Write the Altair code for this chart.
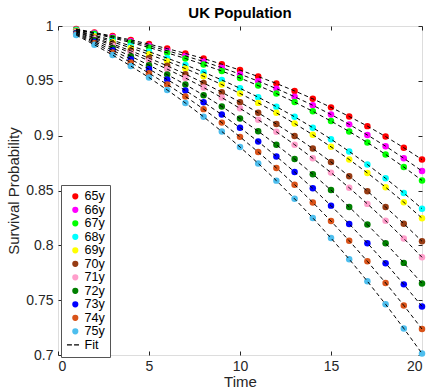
import altair as alt
import pandas as pd

ages = ["65y", "66y", "67y", "68y", "69y", "70y", "71y", "72y", "73y", "74y", "75y"]
colors = ["#FF0000", "#FF00FF", "#00FF00", "#00FFFF", "#FFFF00", "#963C14",
          "#FF9ECB", "#007F00", "#0000FF", "#D95319", "#4DBEEE"]
times = list(range(1, 21))

s65 = [0.9972, 0.9941, 0.9908, 0.9873, 0.9835, 0.9794, 0.9750, 0.9703, 0.9652, 0.9598,
       0.9539, 0.9476, 0.9408, 0.9336, 0.9258, 0.9175, 0.9087, 0.8992, 0.8890, 0.8782]
s66 = [0.9969, 0.9936, 0.9900, 0.9861, 0.9820, 0.9775, 0.9727, 0.9676, 0.9620, 0.9561,
       0.9497, 0.9429, 0.9355, 0.9277, 0.9193, 0.9103, 0.9006, 0.8904, 0.8794, 0.8677]
s67 = [0.9966, 0.9930, 0.9891, 0.9849, 0.9804, 0.9755, 0.9704, 0.9648, 0.9589, 0.9526,
       0.9457, 0.9384, 0.9306, 0.9222, 0.9133, 0.9038, 0.8937, 0.8829, 0.8714, 0.8592]
s68 = [0.9959, 0.9916, 0.9869, 0.9819, 0.9765, 0.9707, 0.9645, 0.9579, 0.9508, 0.9432,
       0.9351, 0.9264, 0.9172, 0.9073, 0.8968, 0.8856, 0.8737, 0.8611, 0.8477, 0.8334]
s69 = [0.9955, 0.9907, 0.9855, 0.9800, 0.9742, 0.9679, 0.9612, 0.9541, 0.9466, 0.9385,
       0.9299, 0.9208, 0.9111, 0.9008, 0.8898, 0.8783, 0.8660, 0.8530, 0.8393, 0.8248]
s70 = [0.9949, 0.9894, 0.9836, 0.9774, 0.9707, 0.9637, 0.9561, 0.9481, 0.9396, 0.9305,
       0.9209, 0.9106, 0.8997, 0.8882, 0.8760, 0.8630, 0.8494, 0.8349, 0.8197, 0.8037]
s71 = [0.9945, 0.9885, 0.9822, 0.9755, 0.9683, 0.9607, 0.9526, 0.9439, 0.9347, 0.9249,
       0.9145, 0.9035, 0.8918, 0.8794, 0.8663, 0.8525, 0.8378, 0.8224, 0.8062, 0.7891]
s72 = [0.9937, 0.9871, 0.9800, 0.9724, 0.9643, 0.9557, 0.9466, 0.9369, 0.9266, 0.9156,
       0.9040, 0.8917, 0.8787, 0.8649, 0.8504, 0.8350, 0.8189, 0.8019, 0.7840, 0.7653]
s73 = [0.9931, 0.9857, 0.9779, 0.9696, 0.9607, 0.9512, 0.9412, 0.9305, 0.9192, 0.9073,
       0.8946, 0.8811, 0.8669, 0.8520, 0.8362, 0.8195, 0.8020, 0.7837, 0.7644, 0.7443]
s74 = [0.9924, 0.9844, 0.9758, 0.9667, 0.9570, 0.9467, 0.9358, 0.9242, 0.9119, 0.8989,
       0.8851, 0.8706, 0.8553, 0.8391, 0.8221, 0.8042, 0.7854, 0.7657, 0.7452, 0.7237]
s75 = [0.9917, 0.9829, 0.9735, 0.9635, 0.9530, 0.9417, 0.9298, 0.9172, 0.9038, 0.8897,
       0.8747, 0.8590, 0.8424, 0.8250, 0.8066, 0.7874, 0.7672, 0.7462, 0.7242, 0.7014]

series = [s65, s66, s67, s68, s69, s70, s71, s72, s73, s74, s75]
x_ticks = [0, 5, 10, 15, 20]
y_ticks = [0.7, 0.75, 0.8, 0.85, 0.9, 0.95, 1.0]

rows = []
for a, vals in zip(ages, series):
    for t, v in zip(times, vals):
        rows.append({"age": a, "t": t, "s": v})
df = pd.DataFrame(rows)

W, H = 364, 329
FONT = "Liberation Sans"
INK = "#262626"

legend_domain = ages + ["Fit"]
legend_colors = colors + ["#000000"]
dash_path = "M-2.7,-0.2H-1.1V0.2H-2.7Z M-0.4,-0.2H1.2V0.2H-0.4Z"
legend_shapes = ["circle"] * len(ages) + [dash_path]

xscale = alt.Scale(domain=[0, 20], nice=False, zero=False)
yscale = alt.Scale(domain=[0.7, 1.0], nice=False, zero=False)

def xaxis(**kw):
    base = dict(values=x_ticks, grid=False, domain=False, tickColor=INK,
                tickWidth=1, labelFont=FONT, titleFont=FONT, labelColor=INK,
                titleColor=INK)
    base.update(kw)
    return alt.Axis(**base)

def yaxis(**kw):
    base = dict(values=y_ticks, grid=False, domain=False, tickColor=INK,
                tickWidth=1, labelFont=FONT, titleFont=FONT, labelColor=INK,
                titleColor=INK)
    base.update(kw)
    return alt.Axis(**base)

legend = alt.Legend(
    title=None, orient="none", legendX=3, legendY=159,
    padding=5, rowPadding=0.5, symbolSize=38, symbolStrokeWidth=0,
    labelFont=FONT, labelFontSize=12.6, labelColor="#000000", labelOffset=3,
    symbolOffset=3,
    strokeColor="#555555", fillColor="#FFFFFF",
)

points = alt.Chart(df).mark_point(filled=True, size=42, opacity=1).encode(
    x=alt.X("t:Q", scale=xscale,
            axis=xaxis(orient="bottom", title="Time", ticks=False,
                       labelFontSize=14, titleFontSize=15, titleFontWeight="normal",
                       labelPadding=4, titlePadding=1)),
    y=alt.Y("s:Q", scale=yscale,
            axis=yaxis(orient="left", title="Survival Probability", ticks=False,
                       format="~g", labelFontSize=14, titleFontSize=15,
                       titleFontWeight="normal", labelPadding=5, titlePadding=4)),
    color=alt.Color("age:N", scale=alt.Scale(domain=legend_domain, range=legend_colors),
                    legend=legend),
    shape=alt.Shape("age:N", scale=alt.Scale(domain=legend_domain, range=legend_shapes),
                    legend=legend),
)

lines = alt.Chart(df).mark_line(color="black", strokeDash=[4, 3], strokeWidth=1).encode(
    x=alt.X("t:Q", scale=xscale,
            axis=xaxis(orient="top", offset=-H, labels=False, tickSize=4, title=None)),
    y=alt.Y("s:Q", scale=yscale,
            axis=yaxis(orient="right", offset=-W, labels=False, tickSize=4, title=None)),
    detail="age:N",
)

ghost = alt.Chart(df).mark_point(opacity=0).encode(
    x=alt.X("t:Q", scale=xscale,
            axis=xaxis(orient="bottom", offset=-H, labels=False, tickSize=4, title=None)),
    y=alt.Y("s:Q", scale=yscale,
            axis=yaxis(orient="left", offset=-W, labels=False, tickSize=4, title=None)),
)

chart = alt.layer(points, lines, ghost).resolve_axis(
    x="independent", y="independent"
).properties(
    width=W, height=H,
    title=alt.TitleParams("UK Population", font=FONT, fontSize=15, fontWeight="bold",
                          color="#000000", anchor="middle", offset=6, dy=8),
    autosize=alt.AutoSizeParams(type="none"),
    padding={"left": 58, "top": 26, "right": 8, "bottom": 37},
).configure_view(stroke=INK, strokeWidth=1).configure(background="white")

chart.save("out.html", embed_options={"renderer": "svg", "actions": False})
